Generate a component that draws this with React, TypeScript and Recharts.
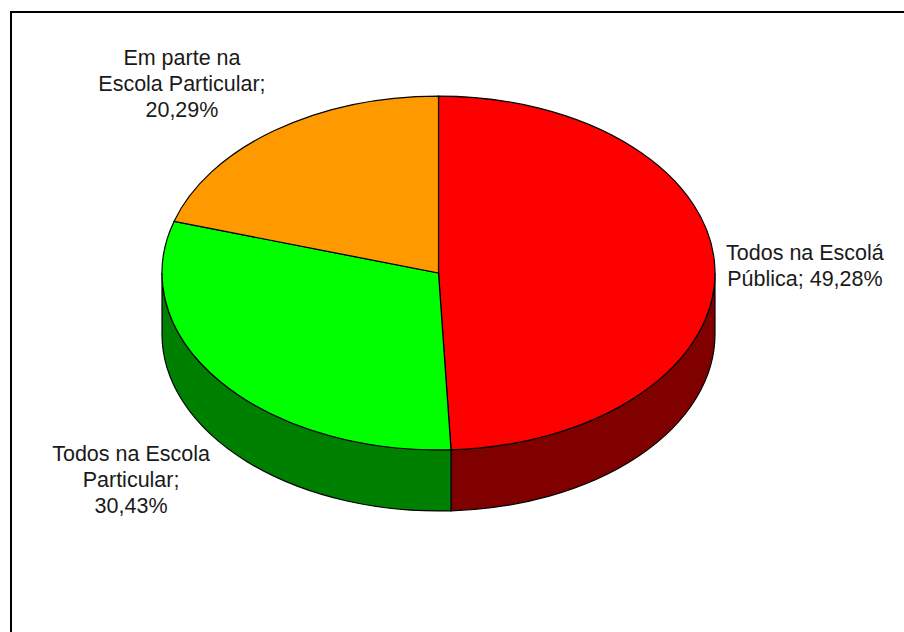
import { Pie, PieChart } from "recharts";

const categories = ["Todos na Escolá Pública", "Todos na Escola Particular", "Em parte na Escola Particular"];
const shares = [49.28, 30.43, 20.29];
const shareLabels = ["49,28%", "30,43%", "20,29%"];
const topColors = ["#ff0000", "#00ff00", "#ff9900"];
const wallColors = ["#800000", "#008000", "#804d00"];

// wrapped text of each label, as in the original
const labelLines = [
  ["Todos na Escolá", "Pública; " + shareLabels[0]],
  ["Todos na Escola", "Particular;", shareLabels[1]],
  ["Em parte na", "Escola Particular;", shareLabels[2]],
];

// offset of each label from the rim point at its mid angle
const labelOffsets = [
  [90, -9],
  [-89, 79],
  [-92, -66],
];

const data = categories.map((name, i) => ({ name, value: shares[i], fill: topColors[i], wall: wallColors[i] }));

const SQUASH = 0.64;
const DEPTH = 61;
const LINE_HEIGHT = 26;
const RAD = Math.PI / 180;

function rim(cx: number, cy: number, r: number, angle: number) {
  return { x: cx + r * Math.cos(angle * RAD), y: cy - r * SQUASH * Math.sin(angle * RAD) };
}

// one slice: side wall (front half only) and then the squashed top
function Slice(props: any) {
  const { cx, cy, outerRadius: r, startAngle, endAngle, fill, payload } = props;
  const ry = r * SQUASH;
  const a = rim(cx, cy, r, startAngle);
  const b = rim(cx, cy, r, endAngle);
  const large = Math.abs(startAngle - endAngle) > 180 ? 1 : 0;
  const top = `M${cx},${cy} L${a.x},${a.y} A${r},${ry} 0 ${large} 1 ${b.x},${b.y} Z`;

  const from = Math.min(startAngle, 0);
  const to = Math.max(endAngle, -180);
  let wall = null;
  if (from > to) {
    const p = rim(cx, cy, r, from);
    const q = rim(cx, cy, r, to);
    wall = (
      <path
        d={`M${p.x},${p.y} A${r},${ry} 0 0 1 ${q.x},${q.y} L${q.x},${q.y + DEPTH} A${r},${ry} 0 0 0 ${p.x},${p.y + DEPTH} Z`}
        fill={payload?.wall ?? props.wall}
        stroke="#000"
        strokeWidth={1.2}
      />
    );
  }
  return (
    <g>
      {wall}
      <path d={top} fill={fill} stroke="#000" strokeWidth={1.2} />
    </g>
  );
}

function SliceLabel(props: any) {
  const { cx, cy, outerRadius, midAngle, index } = props;
  const p = rim(cx, cy, outerRadius, midAngle);
  const [dx, dy] = labelOffsets[index];
  return (
    <text
      x={p.x + dx}
      y={p.y + dy}
      textAnchor="middle"
      fontFamily="'Liberation Sans', Arial, sans-serif"
      fontSize={21.5}
      fill="#1a1a1a"
    >
      {labelLines[index].map((line, i) => (
        <tspan key={i} x={p.x + dx} y={p.y + dy + i * LINE_HEIGHT}>
          {line}
        </tspan>
      ))}
    </text>
  );
}

export default function App() {
  return (
    <div style={{ position: "absolute", left: 0, top: 0, width: 904, height: 632, background: "#fff", overflow: "hidden" }}>
      <div
        style={{
          position: "absolute",
          left: 10,
          top: 11,
          width: 894,
          height: 621,
          borderLeft: "2px solid #000",
          borderTop: "2px solid #000",
        }}
      />
      <PieChart
        width={904}
        height={632}
        margin={{ top: 0, right: 0, bottom: 0, left: 0 }}
        style={{ position: "absolute", left: 0, top: 0 }}
      >
        <Pie
          data={data}
          dataKey="value"
          nameKey="name"
          cx={438.5}
          cy={273}
          innerRadius={0}
          outerRadius={276.5}
          startAngle={90}
          endAngle={-270}
          shape={Slice}
          label={SliceLabel}
          labelLine={false}
          isAnimationActive={false}
        />
      </PieChart>
    </div>
  );
}
